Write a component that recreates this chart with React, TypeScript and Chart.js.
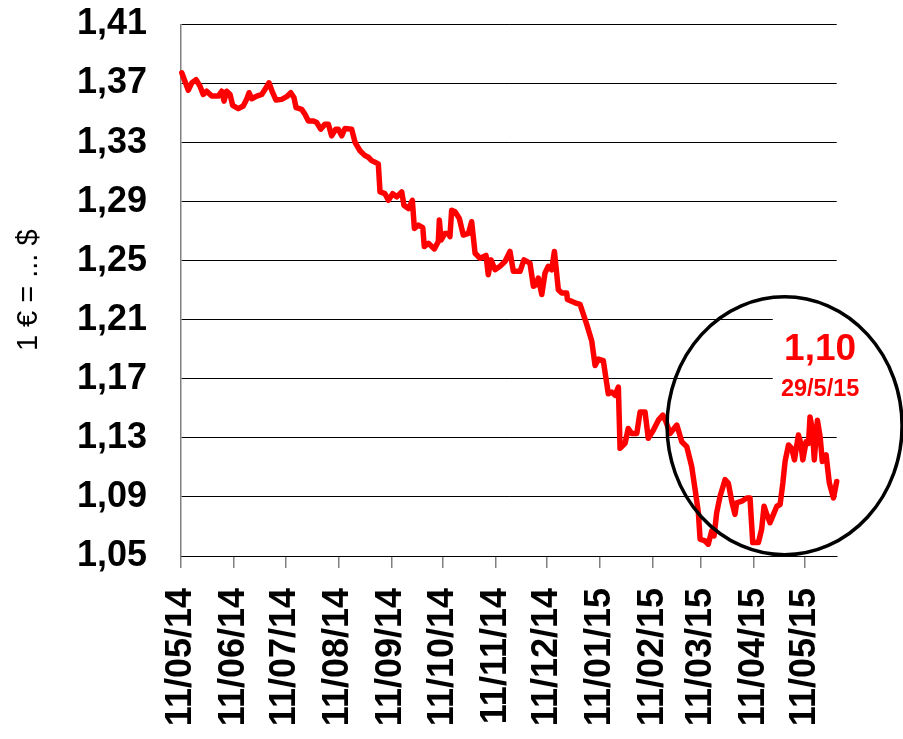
import React, { useEffect, useRef } from "react";
import { Chart, registerables } from "chart.js";

Chart.register(...registerables);

// ---------- data ----------
const START_DATE = "2014-05-11";

const monthTickDates = [
  "2014-05-11", "2014-06-11", "2014-07-11", "2014-08-11", "2014-09-11", "2014-10-11", "2014-11-11",
  "2014-12-11", "2015-01-11", "2015-02-11", "2015-03-11", "2015-04-11", "2015-05-11",
];
const monthTickLabels = [
  "11/05/14", "11/06/14", "11/07/14", "11/08/14", "11/09/14", "11/10/14", "11/11/14",
  "11/12/14", "11/01/15", "11/02/15", "11/03/15", "11/04/15", "11/05/15",
];
const yTickValues = [1.05, 1.09, 1.13, 1.17, 1.21, 1.25, 1.29, 1.33, 1.37, 1.41];

// days since START_DATE and EUR/USD rate, period May–Sep 2014
const daysA = [
  0.5, 2.3, 4.3, 6.3, 8.8, 11.1, 13.0, 15.0, 18.0, 21.8, 23.8, 25.2, 26.7, 28.7, 30.2,
  33.5, 36.4, 38.4, 39.8, 41.4, 44.3, 47.2, 49.1, 51.5, 53.6, 55.6, 58.9, 61.8, 64.2, 66.1,
  67.3, 70.6, 72.5, 74.5, 77.4, 79.4, 81.7, 84.2, 86.2, 88.1, 90.5, 92.0, 94.0, 95.9, 99.8,
  101.8, 104.7, 107.6, 109.6, 111.5, 113.5, 115.4, 116.4, 119.3, 121.3, 123.8, 126.2,
];
const ratesA = [
  1.3772, 1.3716, 1.3655, 1.3705, 1.3727, 1.3682, 1.3626, 1.3648, 1.3615, 1.3615, 1.3648, 1.3581, 1.3648, 1.3626, 1.3552,
  1.3530, 1.3548, 1.3593, 1.3638, 1.3597, 1.3615, 1.3626, 1.3660, 1.3705, 1.3638, 1.3588, 1.3593, 1.3611, 1.3638, 1.3604,
  1.3537, 1.3525, 1.3492, 1.3447, 1.3447, 1.3436, 1.3391, 1.3425, 1.3425, 1.3346, 1.3391, 1.3391, 1.3346, 1.3396, 1.3391,
  1.3302, 1.3245, 1.3212, 1.3201, 1.3178, 1.3167, 1.3156, 1.2966, 1.2954, 1.2909, 1.2954, 1.2932,
];

// period Sep 2014 – Jan 2015
const daysB = [
  129.1, 130.4, 133.0, 135.3, 136.5, 138.8, 141.4, 142.3, 144.7, 148.2, 150.5, 151.1, 152.1, 154.4, 156.4,
  157.3, 158.3, 160.3, 162.8, 165.1, 168.1, 170.0, 172.0, 174.9, 178.4, 179.7, 181.3, 183.7, 186.6, 189.5,
  192.4, 194.4, 198.3, 200.6, 204.1, 206.1, 207.7, 209.0, 211.0, 212.9, 214.8, 216.8, 218.4, 220.7, 222.7,
  225.6, 226.0, 230.5, 233.4,
];
const ratesB = [
  1.2966, 1.2876, 1.2853, 1.2909, 1.2719, 1.2741, 1.2724, 1.2596, 1.2618, 1.2580, 1.2630, 1.2775, 1.2640, 1.2685, 1.2685,
  1.2663, 1.2842, 1.2831, 1.2786, 1.2674, 1.2685, 1.2764, 1.2551, 1.2517, 1.2536, 1.2405, 1.2506, 1.2439, 1.2462, 1.2495,
  1.2563, 1.2428, 1.2428, 1.2506, 1.2484, 1.2327, 1.2338, 1.2383, 1.2271, 1.2417, 1.2462, 1.2439, 1.2563, 1.2304, 1.2282,
  1.2282, 1.2237, 1.2215, 1.2204,
];

// period Jan 2015 – 29 May 2015
const daysC = [
  237.3, 240.2, 242.2, 244.1, 247.0, 249.9, 251.9, 253.9, 255.8, 256.8, 259.7, 261.6, 263.6, 266.6, 268.5,
  271.4, 273.3, 276.3, 279.2, 281.8, 283.7, 286.0, 290.0, 292.9, 295.8, 298.7, 300.7, 302.6, 303.6, 306.5,
  308.4, 310.4, 311.8, 313.3, 315.3, 318.2, 320.1, 322.1, 324.0, 325.0, 328.0, 330.9, 332.8, 334.4, 337.7,
  339.6, 341.0, 342.6, 344.5, 346.5, 348.5, 350.4, 352.0, 353.3, 355.3, 357.2, 358.8, 361.1, 362.5, 363.7,
  365.6, 367.0, 367.9, 369.3, 370.4, 372.2, 373.8, 375.1, 377.3, 379.2, 381.6, 383.5,
];
const ratesC = [
  1.2069, 1.1958, 1.1790, 1.1834, 1.1823, 1.1599, 1.1610, 1.1588, 1.1644, 1.1229, 1.1263, 1.1364, 1.1330, 1.1330, 1.1476,
  1.1476, 1.1297, 1.1353, 1.1420, 1.1454, 1.1409, 1.1330, 1.1387, 1.1274, 1.1241, 1.1106, 1.0950, 1.0793, 1.0614, 1.0602,
  1.0580, 1.0670, 1.0636, 1.0793, 1.0905, 1.1017, 1.0994, 1.0871, 1.0782, 1.0860, 1.0871, 1.0893, 1.0893, 1.0591, 1.0591,
  1.0681, 1.0837, 1.0782, 1.0726, 1.0782, 1.0837, 1.0849, 1.0994, 1.1140, 1.1252, 1.1229, 1.1151, 1.1319, 1.1263, 1.1151,
  1.1274, 1.1263, 1.1442, 1.1353, 1.1151, 1.1420, 1.1308, 1.1140, 1.1185, 1.0994, 1.0893, 1.1005,
];

const AXIS_END_DAY = 383.5;
const yAxisTitle = "1 € = ... $";
const lastValueLabel = "1,10";
const lastDateLabel = "29/5/15";

// ---------- helpers ----------
const FONT = "'Liberation Sans', Arial, Helvetica, sans-serif";

function daysSince(d: string): number {
  const [y, m, dd] = d.split("-").map(Number);
  const [y0, m0, d0] = START_DATE.split("-").map(Number);
  return Math.round((Date.UTC(y, m - 1, dd) - Date.UTC(y0, m0 - 1, d0)) / 86400000);
}

const monthTickDays = monthTickDates.map(daysSince);

const allDays = [...daysA, ...daysB, ...daysC];
const allRates = [...ratesA, ...ratesB, ...ratesC];
const points = allDays.map((d, i) => ({ x: d, y: allRates[i] }));

const annotationPlugin = {
  id: "eurusdAnnotation",
  beforeDatasetsDraw(chart: any) {
    const { ctx, scales, chartArea } = chart;
    const x = scales.x;
    const y = scales.y;
    // white text box hiding gridlines behind the label
    const bx = x.getPixelForValue(346.1);
    const by1 = y.getPixelForValue(1.2245);
    const by2 = y.getPixelForValue(1.152);
    ctx.save();
    ctx.fillStyle = "#ffffff";
    ctx.fillRect(bx, by1, chartArea.right + 4 - bx, by2 - by1);
    ctx.restore();
  },
  afterDatasetsDraw(chart: any) {
    const { ctx, scales } = chart;
    const x = scales.x;
    const y = scales.y;
    const cx = x.getPixelForValue(353.0);
    const cy = y.getPixelForValue(1.1382);
    ctx.save();
    ctx.beginPath();
    ctx.ellipse(cx, cy, 117.5, 129, 0, 0, Math.PI * 2);
    ctx.lineWidth = 3.5;
    ctx.strokeStyle = "#000000";
    ctx.stroke();

    ctx.fillStyle = "#ff0000";
    ctx.textAlign = "center";
    ctx.textBaseline = "alphabetic";
    const tx = x.getPixelForValue(373.8);
    ctx.font = `bold 37px ${FONT}`;
    ctx.fillText(lastValueLabel, tx, y.getPixelForValue(1.1825));
    ctx.font = `bold 23.5px ${FONT}`;
    ctx.fillText(lastDateLabel, tx, y.getPixelForValue(1.1583));
    ctx.restore();
  },
};

export default function App() {
  const canvasRef = useRef<HTMLCanvasElement | null>(null);

  useEffect(() => {
    const canvas = canvasRef.current;
    if (!canvas) return;
    const chart = new Chart(canvas, {
      type: "line",
      data: {
        datasets: [
          {
            label: "EUR/USD",
            data: points,
            borderColor: "#ff0000",
            backgroundColor: "#ff0000",
            borderWidth: 5.5,
            pointRadius: 0,
            tension: 0,
            borderJoinStyle: "round",
            borderCapStyle: "round",
            clip: false,
          } as any,
        ],
      },
      options: {
        animation: false,
        responsive: false,
        devicePixelRatio: 1,
        parsing: false,
        layout: { padding: { top: 24.5, right: 66.3, left: 0, bottom: 0 } },
        plugins: {
          legend: { display: false },
          tooltip: { enabled: false },
        },
        scales: {
          x: {
            type: "linear",
            min: 0,
            max: AXIS_END_DAY,
            afterFit: (scale: any) => {
              scale.height = 183;
            },
            afterBuildTicks: (scale: any) => {
              scale.ticks = monthTickDays.map((v) => ({ value: v }));
            },
            ticks: {
              autoSkip: false,
              minRotation: 90,
              maxRotation: 90,
              padding: 20,
              color: "#000000",
              font: { family: FONT, size: 36, weight: "bold" },
              callback: (_v: any, i: number) => monthTickLabels[i],
            },
            grid: {
              drawOnChartArea: false,
              drawTicks: true,
              tickLength: 12,
              tickColor: "#808080",
              lineWidth: 1.5,
              color: "#808080",
            },
            border: { display: true, color: "#000000", width: 1 },
          },
          y: {
            type: "linear",
            min: 1.05,
            max: 1.41,
            afterFit: (scale: any) => {
              scale.width = 181;
            },
            afterBuildTicks: (scale: any) => {
              scale.ticks = yTickValues.map((v) => ({ value: v }));
            },
            ticks: {
              padding: 0,
              color: "#000000",
              font: { family: FONT, size: 36, weight: "bold" },
              callback: (v: any) => Number(v).toFixed(2).replace(".", ","),
            },
            grid: {
              color: "#000000",
              lineWidth: 1,
              drawTicks: true,
              tickLength: 34,
              tickColor: "rgba(0,0,0,0)",
            },
            border: { display: true, color: "#808080", width: 1.5 },
            title: {
              display: true,
              text: yAxisTitle,
              color: "#000000",
              font: { family: FONT, size: 29, weight: "normal" },
              padding: { top: 12, bottom: 0 },
            },
          },
        },
      },
      plugins: [annotationPlugin],
    });
    return () => chart.destroy();
  }, []);

  return (
    <div style={{ position: "absolute", left: 0, top: 0, width: 903, height: 739, background: "#fff" }}>
      <canvas ref={canvasRef} width={903} height={739} style={{ display: "block", width: 903, height: 739 }} />
    </div>
  );
}
